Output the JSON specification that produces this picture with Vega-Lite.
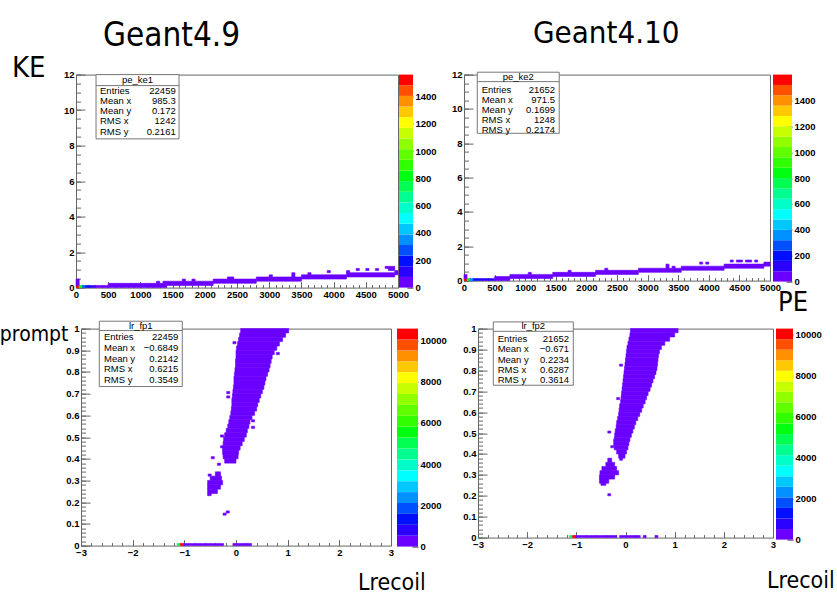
{
"$schema": "https://vega.github.io/schema/vega-lite/v6.json",
"padding": {"left": -14, "top": 17.6, "right": 0, "bottom": 0},
"background": "white",
"spacing": 3,
"resolve": {"scale": {"color": "independent", "stroke": "independent"}, "legend": {"color": "independent", "stroke": "independent"}},
"config": {
  "view": {"stroke": null},
  "axis": {"labelFont": "Liberation Sans", "labelFontWeight": "bold", "labelFontSize": 9.5, "labelColor": "#000", "tickColor": "#666", "tickWidth": 1, "domain": false, "grid": false, "labelFlush": false, "labelOverlap": false, "labelBound": false},
  "title": {"font": "DejaVu Sans Condensed, Liberation Sans", "fontWeight": "normal", "color": "#000", "anchor": "start", "frame": "group", "baseline": "alphabetic", "fontSize": 29},
  "text": {"font": "Liberation Sans", "fontSize": 9.5, "color": "#000"}
},
"datasets": {
  "tl_heat": [
    {"x":0,"x2":50,"y":0,"y2":0.12,"n":1550},
    {"x":50,"x2":100,"y":0,"y2":0.12,"n":800},
    {"x":100,"x2":150,"y":0,"y2":0.12,"n":300},
    {"x":150,"x2":200,"y":0,"y2":0.12,"n":180},
    {"x":200,"x2":300,"y":0,"y2":0.12,"n":100},
    {"x":0,"x2":50,"y":0.12,"y2":0.48,"n":20},
    {"x":300,"x2":500,"y":0,"y2":0.12,"n":60},
    {"x":500,"x2":1400,"y":0,"y2":0.24,"n":40},
    {"x":1250,"x2":1300,"y":0.24,"y2":0.36,"n":3},
    {"x":1350,"x2":1400,"y":0.24,"y2":0.36,"n":3},
    {"x":1400,"x2":2130,"y":0.12,"y2":0.36,"n":30},
    {"x":1650,"x2":1700,"y":0.36,"y2":0.48,"n":2},
    {"x":1800,"x2":1850,"y":0.36,"y2":0.48,"n":2},
    {"x":2130,"x2":2800,"y":0.24,"y2":0.48,"n":25},
    {"x":2350,"x2":2450,"y":0.48,"y2":0.6,"n":2},
    {"x":2800,"x2":3500,"y":0.36,"y2":0.6,"n":20},
    {"x":3000,"x2":3050,"y":0.6,"y2":0.72,"n":2},
    {"x":3350,"x2":3400,"y":0.6,"y2":0.84,"n":2},
    {"x":3500,"x2":4200,"y":0.48,"y2":0.72,"n":15},
    {"x":3600,"x2":3650,"y":0.72,"y2":0.84,"n":2},
    {"x":3900,"x2":3950,"y":0.84,"y2":0.96,"n":1},
    {"x":4200,"x2":4950,"y":0.6,"y2":0.84,"n":12},
    {"x":4200,"x2":4250,"y":0.84,"y2":0.96,"n":2},
    {"x":4350,"x2":4400,"y":0.96,"y2":1.08,"n":1},
    {"x":4500,"x2":4550,"y":0.96,"y2":1.08,"n":1},
    {"x":4650,"x2":4700,"y":0.96,"y2":1.08,"n":1},
    {"x":4950,"x2":5000,"y":0.72,"y2":0.96,"n":8},
    {"x":4800,"x2":4950,"y":1.08,"y2":1.2,"n":1},
    {"x":4850,"x2":4950,"y":0.96,"y2":1.08,"n":2}
  ],
  "tr_heat": [
    {"x":0,"x2":50,"y":0,"y2":0.12,"n":1590},
    {"x":50,"x2":100,"y":0,"y2":0.12,"n":820},
    {"x":100,"x2":150,"y":0,"y2":0.12,"n":330},
    {"x":150,"x2":250,"y":0,"y2":0.12,"n":180},
    {"x":0,"x2":50,"y":0.12,"y2":0.36,"n":20},
    {"x":250,"x2":500,"y":0,"y2":0.12,"n":90},
    {"x":500,"x2":750,"y":0,"y2":0.24,"n":50},
    {"x":750,"x2":1450,"y":0.12,"y2":0.36,"n":35},
    {"x":1050,"x2":1100,"y":0.36,"y2":0.48,"n":2},
    {"x":1450,"x2":2150,"y":0.24,"y2":0.48,"n":30},
    {"x":1700,"x2":1750,"y":0.48,"y2":0.6,"n":2},
    {"x":2150,"x2":2850,"y":0.36,"y2":0.6,"n":25},
    {"x":2300,"x2":2350,"y":0.6,"y2":0.72,"n":2},
    {"x":2850,"x2":3550,"y":0.48,"y2":0.72,"n":20},
    {"x":3300,"x2":3350,"y":0.72,"y2":0.96,"n":2},
    {"x":3400,"x2":3450,"y":0.72,"y2":0.84,"n":2},
    {"x":3550,"x2":4250,"y":0.6,"y2":0.84,"n":15},
    {"x":3850,"x2":3900,"y":0.96,"y2":1.08,"n":1},
    {"x":3950,"x2":4000,"y":0.96,"y2":1.08,"n":1},
    {"x":4250,"x2":4900,"y":0.72,"y2":0.96,"n":12},
    {"x":4350,"x2":4400,"y":1.08,"y2":1.2,"n":1},
    {"x":4450,"x2":4550,"y":1.08,"y2":1.2,"n":1},
    {"x":4600,"x2":4700,"y":1.08,"y2":1.2,"n":1},
    {"x":4750,"x2":4800,"y":1.08,"y2":1.2,"n":1},
    {"x":4900,"x2":5000,"y":0.84,"y2":1.08,"n":8}
  ],
  "bl_heat": [
    {"x":-1.14,"x2":-1.08,"y":0,"y2":0.01,"n":5000},
    {"x":-1.08,"x2":-1.02,"y":0,"y2":0.01,"n":10500},
    {"x":-1.02,"x2":-0.24,"y":0,"y2":0.01,"n":200},
    {"x":-0.06,"x2":0.3,"y":0,"y2":0.01,"n":100},
    {"x":-0.25,"x2":-0.19,"y":0.14,"y2":0.15,"n":2},
    {"x":-0.19,"x2":-0.13,"y":0.15,"y2":0.16,"n":2},
    {"x":0.09,"x2":1.02,"y":0.98,"y2":1.0,"n":50},
    {"x":0.07,"x2":0.96,"y":0.96,"y2":0.98,"n":50},
    {"x":0.05,"x2":0.9,"y":0.94,"y2":0.96,"n":50},
    {"x":0.03,"x2":0.84,"y":0.92,"y2":0.94,"n":50},
    {"x":0.01,"x2":0.79,"y":0.9,"y2":0.92,"n":50},
    {"x":0.0,"x2":0.74,"y":0.88,"y2":0.9,"n":50},
    {"x":0.0,"x2":0.7,"y":0.86,"y2":0.88,"n":50},
    {"x":-0.01,"x2":0.68,"y":0.84,"y2":0.86,"n":50},
    {"x":-0.01,"x2":0.66,"y":0.82,"y2":0.84,"n":50},
    {"x":-0.02,"x2":0.64,"y":0.8,"y2":0.82,"n":50},
    {"x":-0.03,"x2":0.61,"y":0.78,"y2":0.8,"n":50},
    {"x":-0.04,"x2":0.58,"y":0.76,"y2":0.78,"n":50},
    {"x":-0.04,"x2":0.56,"y":0.74,"y2":0.76,"n":50},
    {"x":-0.05,"x2":0.54,"y":0.72,"y2":0.74,"n":50},
    {"x":-0.06,"x2":0.51,"y":0.7,"y2":0.72,"n":50},
    {"x":-0.07,"x2":0.48,"y":0.68,"y2":0.7,"n":50},
    {"x":-0.08,"x2":0.45,"y":0.66,"y2":0.68,"n":50},
    {"x":-0.08,"x2":0.42,"y":0.64,"y2":0.66,"n":50},
    {"x":-0.09,"x2":0.4,"y":0.62,"y2":0.64,"n":50},
    {"x":-0.1,"x2":0.36,"y":0.6,"y2":0.62,"n":50},
    {"x":-0.12,"x2":0.31,"y":0.58,"y2":0.6,"n":50},
    {"x":-0.14,"x2":0.27,"y":0.56,"y2":0.58,"n":50},
    {"x":-0.16,"x2":0.25,"y":0.54,"y2":0.56,"n":50},
    {"x":-0.19,"x2":0.22,"y":0.52,"y2":0.54,"n":50},
    {"x":-0.22,"x2":0.2,"y":0.5,"y2":0.52,"n":50},
    {"x":-0.24,"x2":0.16,"y":0.48,"y2":0.5,"n":50},
    {"x":-0.25,"x2":0.12,"y":0.46,"y2":0.48,"n":50},
    {"x":-0.26,"x2":0.08,"y":0.44,"y2":0.46,"n":50},
    {"x":-0.26,"x2":0.05,"y":0.42,"y2":0.44,"n":50},
    {"x":-0.25,"x2":0.04,"y":0.4,"y2":0.42,"n":50},
    {"x":-0.22,"x2":0.0,"y":0.38,"y2":0.4,"n":50},
    {"x":-0.4,"x2":-0.3,"y":0.32,"y2":0.34,"n":50},
    {"x":-0.5,"x2":-0.28,"y":0.3,"y2":0.32,"n":50},
    {"x":-0.55,"x2":-0.26,"y":0.28,"y2":0.3,"n":50},
    {"x":-0.55,"x2":-0.3,"y":0.26,"y2":0.28,"n":50},
    {"x":-0.55,"x2":-0.36,"y":0.24,"y2":0.26,"n":50},
    {"x":-0.55,"x2":-0.48,"y":0.23,"y2":0.24,"n":50},
    {"x":-0.48,"x2":-0.42,"y":0.4,"y2":0.41,"n":2},
    {"x":-0.36,"x2":-0.3,"y":0.37,"y2":0.38,"n":2},
    {"x":-0.54,"x2":-0.48,"y":0.32,"y2":0.33,"n":2},
    {"x":-0.3,"x2":-0.24,"y":0.5,"y2":0.51,"n":2},
    {"x":-0.3,"x2":-0.24,"y":0.45,"y2":0.46,"n":2},
    {"x":-0.18,"x2":-0.12,"y":0.68,"y2":0.69,"n":2},
    {"x":-0.18,"x2":-0.12,"y":0.7,"y2":0.71,"n":2},
    {"x":-0.06,"x2":0.0,"y":0.93,"y2":0.94,"n":2},
    {"x":0.3,"x2":0.36,"y":0.57,"y2":0.58,"n":2},
    {"x":0.3,"x2":0.36,"y":0.54,"y2":0.55,"n":2},
    {"x":0.78,"x2":0.84,"y":0.88,"y2":0.89,"n":2}
  ],
  "br_heat": [
    {"x":-1.14,"x2":-1.08,"y":0,"y2":0.01,"n":5000},
    {"x":-1.08,"x2":-1.02,"y":0,"y2":0.01,"n":10200},
    {"x":-1.02,"x2":-0.18,"y":0,"y2":0.01,"n":200},
    {"x":-0.12,"x2":0.3,"y":0,"y2":0.01,"n":100},
    {"x":0.36,"x2":0.42,"y":0,"y2":0.01,"n":5},
    {"x":0.6,"x2":0.66,"y":0,"y2":0.01,"n":5},
    {"x":0.1,"x2":1.07,"y":0.98,"y2":1.0,"n":50},
    {"x":0.09,"x2":1.0,"y":0.96,"y2":0.98,"n":50},
    {"x":0.07,"x2":0.9,"y":0.94,"y2":0.96,"n":50},
    {"x":0.05,"x2":0.8,"y":0.92,"y2":0.94,"n":50},
    {"x":0.03,"x2":0.73,"y":0.9,"y2":0.92,"n":50},
    {"x":0.02,"x2":0.69,"y":0.88,"y2":0.9,"n":50},
    {"x":0.01,"x2":0.67,"y":0.86,"y2":0.88,"n":50},
    {"x":0.0,"x2":0.66,"y":0.84,"y2":0.86,"n":50},
    {"x":-0.01,"x2":0.65,"y":0.82,"y2":0.84,"n":50},
    {"x":-0.02,"x2":0.64,"y":0.8,"y2":0.82,"n":50},
    {"x":-0.03,"x2":0.62,"y":0.78,"y2":0.8,"n":50},
    {"x":-0.04,"x2":0.59,"y":0.76,"y2":0.78,"n":50},
    {"x":-0.05,"x2":0.56,"y":0.74,"y2":0.76,"n":50},
    {"x":-0.06,"x2":0.53,"y":0.72,"y2":0.74,"n":50},
    {"x":-0.07,"x2":0.5,"y":0.7,"y2":0.72,"n":50},
    {"x":-0.08,"x2":0.46,"y":0.68,"y2":0.7,"n":50},
    {"x":-0.09,"x2":0.43,"y":0.66,"y2":0.68,"n":50},
    {"x":-0.1,"x2":0.4,"y":0.64,"y2":0.66,"n":50},
    {"x":-0.12,"x2":0.36,"y":0.62,"y2":0.64,"n":50},
    {"x":-0.13,"x2":0.33,"y":0.6,"y2":0.62,"n":50},
    {"x":-0.14,"x2":0.29,"y":0.58,"y2":0.6,"n":50},
    {"x":-0.16,"x2":0.25,"y":0.56,"y2":0.58,"n":50},
    {"x":-0.18,"x2":0.21,"y":0.54,"y2":0.56,"n":50},
    {"x":-0.19,"x2":0.18,"y":0.52,"y2":0.54,"n":50},
    {"x":-0.21,"x2":0.15,"y":0.5,"y2":0.52,"n":50},
    {"x":-0.22,"x2":0.12,"y":0.48,"y2":0.5,"n":50},
    {"x":-0.23,"x2":0.09,"y":0.46,"y2":0.48,"n":50},
    {"x":-0.24,"x2":0.07,"y":0.44,"y2":0.46,"n":50},
    {"x":-0.23,"x2":0.05,"y":0.42,"y2":0.44,"n":50},
    {"x":-0.18,"x2":0.02,"y":0.4,"y2":0.42,"n":50},
    {"x":-0.14,"x2":-0.01,"y":0.38,"y2":0.4,"n":50},
    {"x":-0.36,"x2":-0.28,"y":0.36,"y2":0.38,"n":50},
    {"x":-0.4,"x2":-0.22,"y":0.34,"y2":0.36,"n":50},
    {"x":-0.48,"x2":-0.18,"y":0.32,"y2":0.34,"n":50},
    {"x":-0.52,"x2":-0.14,"y":0.3,"y2":0.32,"n":50},
    {"x":-0.53,"x2":-0.22,"y":0.28,"y2":0.3,"n":50},
    {"x":-0.53,"x2":-0.34,"y":0.26,"y2":0.28,"n":50},
    {"x":-0.5,"x2":-0.4,"y":0.25,"y2":0.26,"n":50},
    {"x":-0.36,"x2":-0.3,"y":0.2,"y2":0.21,"n":2},
    {"x":-0.36,"x2":-0.3,"y":0.5,"y2":0.51,"n":2},
    {"x":-0.3,"x2":-0.24,"y":0.43,"y2":0.44,"n":2},
    {"x":-0.24,"x2":-0.18,"y":0.46,"y2":0.47,"n":2},
    {"x":-0.12,"x2":-0.06,"y":0.37,"y2":0.38,"n":2},
    {"x":-0.18,"x2":-0.12,"y":0.66,"y2":0.67,"n":2},
    {"x":-0.12,"x2":-0.06,"y":0.82,"y2":0.83,"n":2},
    {"x":0.84,"x2":0.9,"y":0.97,"y2":0.98,"n":2}
  ],
  "tl_head": [{"name": "pe_ke1"}],
  "tr_head": [{"name": "pe_ke2"}],
  "bl_head": [{"name": "lr_fp1"}],
  "br_head": [{"name": "lr_fp2"}],
  "tl_stats": [{"stat":"Entries","value":"22459"},{"stat":"Mean x","value":"985.3"},{"stat":"Mean y","value":"0.172"},{"stat":"RMS x","value":"1242"},{"stat":"RMS y","value":"0.2161"}],
  "tr_stats": [{"stat":"Entries","value":"21652"},{"stat":"Mean x","value":"971.5"},{"stat":"Mean y","value":"0.1699"},{"stat":"RMS x","value":"1248"},{"stat":"RMS y","value":"0.2174"}],
  "bl_stats": [{"stat":"Entries","value":"22459"},{"stat":"Mean x","value":"−0.6849"},{"stat":"Mean y","value":"0.2142"},{"stat":"RMS x","value":"0.6215"},{"stat":"RMS y","value":"0.3549"}],
  "br_stats": [{"stat":"Entries","value":"21652"},{"stat":"Mean x","value":"−0.671"},{"stat":"Mean y","value":"0.2234"},{"stat":"RMS x","value":"0.6287"},{"stat":"RMS y","value":"0.3614"}],
  "tl_bands": [{"lo":0,"hi":78},{"lo":78,"hi":156},{"lo":156,"hi":234},{"lo":234,"hi":312},{"lo":312,"hi":390},{"lo":390,"hi":468},{"lo":468,"hi":546},{"lo":546,"hi":624},{"lo":624,"hi":702},{"lo":702,"hi":780},{"lo":780,"hi":858},{"lo":858,"hi":936},{"lo":936,"hi":1014},{"lo":1014,"hi":1092},{"lo":1092,"hi":1170},{"lo":1170,"hi":1248},{"lo":1248,"hi":1326},{"lo":1326,"hi":1404},{"lo":1404,"hi":1482},{"lo":1482,"hi":1560}],
  "tr_bands": [{"lo":0,"hi":80},{"lo":80,"hi":160},{"lo":160,"hi":240},{"lo":240,"hi":320},{"lo":320,"hi":400},{"lo":400,"hi":480},{"lo":480,"hi":560},{"lo":560,"hi":640},{"lo":640,"hi":720},{"lo":720,"hi":800},{"lo":800,"hi":880},{"lo":880,"hi":960},{"lo":960,"hi":1040},{"lo":1040,"hi":1120},{"lo":1120,"hi":1200},{"lo":1200,"hi":1280},{"lo":1280,"hi":1360},{"lo":1360,"hi":1440},{"lo":1440,"hi":1520},{"lo":1520,"hi":1600}],
  "bl_bands": [{"lo":0,"hi":529},{"lo":529,"hi":1058},{"lo":1058,"hi":1587},{"lo":1587,"hi":2116},{"lo":2116,"hi":2645},{"lo":2645,"hi":3174},{"lo":3174,"hi":3703},{"lo":3703,"hi":4232},{"lo":4232,"hi":4761},{"lo":4761,"hi":5290},{"lo":5290,"hi":5819},{"lo":5819,"hi":6348},{"lo":6348,"hi":6877},{"lo":6877,"hi":7406},{"lo":7406,"hi":7935},{"lo":7935,"hi":8464},{"lo":8464,"hi":8993},{"lo":8993,"hi":9522},{"lo":9522,"hi":10051},{"lo":10051,"hi":10580}],
  "br_bands": [{"lo":0,"hi":514},{"lo":514,"hi":1028},{"lo":1028,"hi":1542},{"lo":1542,"hi":2056},{"lo":2056,"hi":2570},{"lo":2570,"hi":3084},{"lo":3084,"hi":3598},{"lo":3598,"hi":4112},{"lo":4112,"hi":4626},{"lo":4626,"hi":5140},{"lo":5140,"hi":5654},{"lo":5654,"hi":6168},{"lo":6168,"hi":6682},{"lo":6682,"hi":7196},{"lo":7196,"hi":7710},{"lo":7710,"hi":8224},{"lo":8224,"hi":8738},{"lo":8738,"hi":9252},{"lo":9252,"hi":9766},{"lo":9766,"hi":10280}]
},
"vconcat": [
 {
  "hconcat": [
  {"width": 90, "height": 213, "title": {"text": "KE", "fontSize": 29, "dx": 26, "offset": -31, "baseline": "alphabetic"}, "data": {"values": [{}]}, "mark": {"type": "text", "text": ""}},
  {
    "width": 322, "height": 213,
    "view": {"stroke": "#666"},
    "title": {"text": "Geant4.9", "fontSize": 33, "dx": 27, "offset": -9.75, "baseline": "alphabetic"},
    "resolve": {"scale": {"y": "independent"}, "axis": {"x": "independent", "y": "independent"}},
    "layer": [
      {"data": {"name": "tl_heat"}, "mark": {"type": "rect", "strokeWidth": 0.6},
       "encoding": {
        "x": {"field": "x", "type": "quantitative", "scale": {"domain": [0,5000], "nice": false, "zero": false}, "axis": {"orient": "bottom", "values": [0,500,1000,1500,2000,2500,3000,3500,4000,4500,5000], "format": "d", "tickSize": -6, "labelPadding": 8, "title": null}},
        "x2": {"field": "x2"},
        "y": {"field": "y", "type": "quantitative", "scale": {"domain": [0,12], "nice": false, "zero": false}, "axis": {"orient": "left", "values": [0,2,4,6,8,10,12], "format": "d", "tickSize": -9, "labelPadding": 11, "title": null}},
        "y2": {"field": "y2"},
        "color": {"field": "n", "type": "quantitative", "scale": {"type": "quantize", "domain": [0,1560], "range": ["#6a00ff","#2a00ff","#0010ff","#0050ff","#0090ff","#00c8ff","#00ffff","#00ffc8","#00ff90","#00ff50","#00ff10","#30ff00","#60ff00","#90ff00","#c8ff00","#ffff00","#ffc800","#ff9000","#ff5000","#ff0000"]}, "legend": null},
        "stroke": {"field": "n", "type": "quantitative", "scale": {"type": "quantize", "domain": [0,1560], "range": ["#6a00ff","#2a00ff","#0010ff","#0050ff","#0090ff","#00c8ff","#00ffff","#00ffc8","#00ff90","#00ff50","#00ff10","#30ff00","#60ff00","#90ff00","#c8ff00","#ffff00","#ffc800","#ff9000","#ff5000","#ff0000"]}, "legend": null}
       }},
      {"data": {"name": "tl_head"}, "mark": {"type": "rect", "fill": "white", "stroke": "#777", "strokeWidth": 1},
       "encoding": {
        "x": {"datum": 311, "type": "quantitative", "scale": {"domain": [0,5000], "nice": false, "zero": false}, "axis": {"orient": "bottom", "values": [0,100,200,300,400,500,600,700,800,900,1000,1100,1200,1300,1400,1500,1600,1700,1800,1900,2000,2100,2200,2300,2400,2500,2600,2700,2800,2900,3000,3100,3200,3300,3400,3500,3600,3700,3800,3900,4000,4100,4200,4300,4400,4500,4600,4700,4800,4900,5000], "labels": false, "tickSize": -3, "title": null}},
        "x2": {"datum": 1600},
        "y": {"datum": 12, "type": "quantitative", "scale": {"domain": [0,12], "nice": false, "zero": false}, "axis": {"orient": "left", "values": [0,0.5,1,1.5,2,2.5,3,3.5,4,4.5,5,5.5,6,6.5,7,7.5,8,8.5,9,9.5,10,10.5,11,11.5,12], "labels": false, "tickSize": -4.5, "title": null}},
        "y2": {"datum": 8.38}
       }},
      {"data": {"name": "tl_head"}, "mark": {"type": "rule", "stroke": "#777"},
       "encoding": {"x": {"datum": 311, "type": "quantitative", "scale": {"domain": [0,5000], "nice": false, "zero": false}, "axis": null}, "x2": {"datum": 1600}, "y": {"datum": 11.38, "type": "quantitative", "scale": {"domain": [0,12], "nice": false, "zero": false}, "axis": null}}},
      {"data": {"name": "tl_head"}, "mark": {"type": "text", "align": "center", "baseline": "middle"},
       "encoding": {"x": {"datum": 955, "type": "quantitative", "scale": {"domain": [0,5000], "nice": false, "zero": false}, "axis": null}, "y": {"datum": 11.72, "type": "quantitative", "scale": {"domain": [0,12], "nice": false, "zero": false}, "axis": null}, "text": {"field": "name"}}},
      {"data": {"name": "tl_stats"}, "mark": {"type": "text", "align": "left", "baseline": "middle"},
       "encoding": {"x": {"datum": 373, "type": "quantitative", "scale": {"domain": [0,5000], "nice": false, "zero": false}, "axis": null}, "y": {"field": "stat", "type": "nominal", "sort": null, "scale": {"type": "point", "range": [16,57], "padding": 0}, "axis": null}, "text": {"field": "stat"}}},
      {"data": {"name": "tl_stats"}, "mark": {"type": "text", "align": "right", "baseline": "middle"},
       "encoding": {"x": {"datum": 1548, "type": "quantitative", "scale": {"domain": [0,5000], "nice": false, "zero": false}, "axis": null}, "y": {"field": "stat", "type": "nominal", "sort": null, "scale": {"type": "point", "range": [16,57], "padding": 0}, "axis": null}, "text": {"field": "value"}}}
    ]
  },
  {"width": 1, "height": 213, "data": {"values": [{}]}, "mark": {"type": "text", "text": ""}},
  {"width": 14, "height": 213, "data": {"name": "tl_bands"}, "mark": "rect",
   "encoding": {
    "y": {"field": "lo", "type": "quantitative", "scale": {"domain": [0,1560], "nice": false, "zero": false}, "axis": {"orient": "right", "values": [0,200,400,600,800,1000,1200,1400], "format": "d", "tickSize": -6, "labelPadding": 8, "title": null, "tickColor": "#333"}},
    "y2": {"field": "hi"},
    "color": {"field": "lo", "type": "quantitative", "scale": {"type": "quantize", "domain": [0,1560], "range": ["#6a00ff","#2a00ff","#0010ff","#0050ff","#0090ff","#00c8ff","#00ffff","#00ffc8","#00ff90","#00ff50","#00ff10","#30ff00","#60ff00","#90ff00","#c8ff00","#ffff00","#ffc800","#ff9000","#ff5000","#ff0000"]}, "legend": null}
   }},
  {"width": 51, "height": 206, "data": {"values": [{}]}, "mark": {"type": "text", "text": ""}},
  {
    "width": 306, "height": 206,
    "view": {"stroke": "#666"},
    "title": {"text": "Geant4.10", "fontSize": 31, "dx": 69, "offset": -4.75, "baseline": "alphabetic"},
    "resolve": {"scale": {"y": "independent"}, "axis": {"x": "independent", "y": "independent"}},
    "layer": [
      {"data": {"name": "tr_heat"}, "mark": {"type": "rect", "strokeWidth": 0.6},
       "encoding": {
        "x": {"field": "x", "type": "quantitative", "scale": {"domain": [0,5000], "nice": false, "zero": false}, "axis": {"orient": "bottom", "values": [0,500,1000,1500,2000,2500,3000,3500,4000,4500,5000], "format": "d", "tickSize": -6, "labelPadding": 8, "title": null}},
        "x2": {"field": "x2"},
        "y": {"field": "y", "type": "quantitative", "scale": {"domain": [0,12], "nice": false, "zero": false}, "axis": {"orient": "left", "values": [0,2,4,6,8,10,12], "format": "d", "tickSize": -9, "labelPadding": 11, "title": null}},
        "y2": {"field": "y2"},
        "color": {"field": "n", "type": "quantitative", "scale": {"type": "quantize", "domain": [0,1600], "range": ["#6a00ff","#2a00ff","#0010ff","#0050ff","#0090ff","#00c8ff","#00ffff","#00ffc8","#00ff90","#00ff50","#00ff10","#30ff00","#60ff00","#90ff00","#c8ff00","#ffff00","#ffc800","#ff9000","#ff5000","#ff0000"]}, "legend": null},
        "stroke": {"field": "n", "type": "quantitative", "scale": {"type": "quantize", "domain": [0,1600], "range": ["#6a00ff","#2a00ff","#0010ff","#0050ff","#0090ff","#00c8ff","#00ffff","#00ffc8","#00ff90","#00ff50","#00ff10","#30ff00","#60ff00","#90ff00","#c8ff00","#ffff00","#ffc800","#ff9000","#ff5000","#ff0000"]}, "legend": null}
       }},
      {"data": {"name": "tr_head"}, "mark": {"type": "rect", "fill": "white", "stroke": "#777", "strokeWidth": 1},
       "encoding": {
        "x": {"datum": 217, "type": "quantitative", "scale": {"domain": [0,5000], "nice": false, "zero": false}, "axis": {"orient": "bottom", "values": [0,100,200,300,400,500,600,700,800,900,1000,1100,1200,1300,1400,1500,1600,1700,1800,1900,2000,2100,2200,2300,2400,2500,2600,2700,2800,2900,3000,3100,3200,3300,3400,3500,3600,3700,3800,3900,4000,4100,4200,4300,4400,4500,4600,4700,4800,4900,5000], "labels": false, "tickSize": -3, "title": null}},
        "x2": {"datum": 1556},
        "y": {"datum": 12.14, "type": "quantitative", "scale": {"domain": [0,12], "nice": false, "zero": false}, "axis": {"orient": "left", "values": [0,0.5,1,1.5,2,2.5,3,3.5,4,4.5,5,5.5,6,6.5,7,7.5,8,8.5,9,9.5,10,10.5,11,11.5,12], "labels": false, "tickSize": -4.5, "title": null}},
        "y2": {"datum": 8.58}
       }},
      {"data": {"name": "tr_head"}, "mark": {"type": "rule", "stroke": "#777"},
       "encoding": {"x": {"datum": 217, "type": "quantitative", "scale": {"domain": [0,5000], "nice": false, "zero": false}, "axis": null}, "x2": {"datum": 1556}, "y": {"datum": 11.59, "type": "quantitative", "scale": {"domain": [0,12], "nice": false, "zero": false}, "axis": null}}},
      {"data": {"name": "tr_head"}, "mark": {"type": "text", "align": "center", "baseline": "middle"},
       "encoding": {"x": {"datum": 886, "type": "quantitative", "scale": {"domain": [0,5000], "nice": false, "zero": false}, "axis": null}, "y": {"datum": 11.88, "type": "quantitative", "scale": {"domain": [0,12], "nice": false, "zero": false}, "axis": null}, "text": {"field": "name"}}},
      {"data": {"name": "tr_stats"}, "mark": {"type": "text", "align": "left", "baseline": "middle"},
       "encoding": {"x": {"datum": 289, "type": "quantitative", "scale": {"domain": [0,5000], "nice": false, "zero": false}, "axis": null}, "y": {"field": "stat", "type": "nominal", "sort": null, "scale": {"type": "point", "range": [15,55.3], "padding": 0}, "axis": null}, "text": {"field": "stat"}}},
      {"data": {"name": "tr_stats"}, "mark": {"type": "text", "align": "right", "baseline": "middle"},
       "encoding": {"x": {"datum": 1487, "type": "quantitative", "scale": {"domain": [0,5000], "nice": false, "zero": false}, "axis": null}, "y": {"field": "stat", "type": "nominal", "sort": null, "scale": {"type": "point", "range": [15,55.3], "padding": 0}, "axis": null}, "text": {"field": "value"}}}
    ]
  },
  {"width": 3, "height": 206, "data": {"values": [{}]}, "mark": {"type": "text", "text": ""}},
  {"width": 19, "height": 207, "data": {"name": "tr_bands"}, "mark": "rect",
   "title": {"text": "PE", "orient": "bottom", "fontSize": 27, "dx": 5, "offset": 25, "baseline": "alphabetic"},
   "encoding": {
    "y": {"field": "lo", "type": "quantitative", "scale": {"domain": [0,1600], "nice": false, "zero": false}, "axis": {"orient": "right", "values": [0,200,400,600,800,1000,1200,1400], "format": "d", "tickSize": -6, "labelPadding": 8, "title": null, "tickColor": "#333"}},
    "y2": {"field": "hi"},
    "color": {"field": "lo", "type": "quantitative", "scale": {"type": "quantize", "domain": [0,1600], "range": ["#6a00ff","#2a00ff","#0010ff","#0050ff","#0090ff","#00c8ff","#00ffff","#00ffc8","#00ff90","#00ff50","#00ff10","#30ff00","#60ff00","#90ff00","#c8ff00","#ffff00","#ffc800","#ff9000","#ff5000","#ff0000"]}, "legend": null}
   }}
  ],
  "bounds": "flush",
  "spacing": 0,
  "resolve": {"scale": {"color": "independent", "stroke": "independent"}, "legend": {"color": "independent", "stroke": "independent"}}
 },
 {
  "hconcat": [
  {"width": 95, "height": 217, "title": {"text": "Fprompt", "fontSize": 21, "dx": 3, "offset": -33, "baseline": "alphabetic"}, "data": {"values": [{}]}, "mark": {"type": "text", "text": ""}},
  {
    "width": 310, "height": 217,
    "view": {"stroke": "#666"},
    "title": {"text": "Lrecoil", "orient": "bottom", "fontSize": 23, "dx": 277, "offset": 32.5, "baseline": "alphabetic"},
    "resolve": {"scale": {"y": "independent"}, "axis": {"x": "independent", "y": "independent"}},
    "layer": [
      {"data": {"name": "bl_heat"}, "mark": {"type": "rect", "strokeWidth": 0.6},
       "encoding": {
        "x": {"field": "x", "type": "quantitative", "scale": {"domain": [-3,3], "nice": false, "zero": false}, "axis": {"orient": "bottom", "values": [-3,-2,-1,0,1,2,3], "format": "~g", "tickSize": -6, "labelPadding": 8, "title": null}},
        "x2": {"field": "x2"},
        "y": {"field": "y", "type": "quantitative", "scale": {"domain": [0,1], "nice": false, "zero": false}, "axis": {"orient": "left", "values": [0,0.1,0.2,0.3,0.4,0.5,0.6,0.7,0.8,0.9,1], "format": "~g", "tickSize": -9, "labelPadding": 11, "title": null}},
        "y2": {"field": "y2"},
        "color": {"field": "n", "type": "quantitative", "scale": {"type": "quantize", "domain": [0,10580], "range": ["#6a00ff","#2a00ff","#0010ff","#0050ff","#0090ff","#00c8ff","#00ffff","#00ffc8","#00ff90","#00ff50","#00ff10","#30ff00","#60ff00","#90ff00","#c8ff00","#ffff00","#ffc800","#ff9000","#ff5000","#ff0000"]}, "legend": null},
        "stroke": {"field": "n", "type": "quantitative", "scale": {"type": "quantize", "domain": [0,10580], "range": ["#6a00ff","#2a00ff","#0010ff","#0050ff","#0090ff","#00c8ff","#00ffff","#00ffc8","#00ff90","#00ff50","#00ff10","#30ff00","#60ff00","#90ff00","#c8ff00","#ffff00","#ffc800","#ff9000","#ff5000","#ff0000"]}, "legend": null}
       }},
      {"data": {"name": "bl_head"}, "mark": {"type": "rect", "fill": "white", "stroke": "#777", "strokeWidth": 1},
       "encoding": {
        "x": {"datum": -2.646, "type": "quantitative", "scale": {"domain": [-3,3], "nice": false, "zero": false}, "axis": {"orient": "bottom", "values": [-3,-2.8,-2.6,-2.4,-2.2,-2,-1.8,-1.6,-1.4,-1.2,-1,-0.8,-0.6,-0.4,-0.2,0,0.2,0.4,0.6,0.8,1,1.2,1.4,1.6,1.8,2,2.2,2.4,2.6,2.8,3], "labels": false, "tickSize": -3, "title": null}},
        "x2": {"datum": -1.04},
        "y": {"datum": 1.034, "type": "quantitative", "scale": {"domain": [0,1], "nice": false, "zero": false}, "axis": {"orient": "left", "values": [0,0.02,0.04,0.06,0.08,0.1,0.12,0.14,0.16,0.18,0.2,0.22,0.24,0.26,0.28,0.3,0.32,0.34,0.36,0.38,0.4,0.42,0.44,0.46,0.48,0.5,0.52,0.54,0.56,0.58,0.6,0.62,0.64,0.66,0.68,0.7,0.72,0.74,0.76,0.78,0.8,0.82,0.84,0.86,0.88,0.9,0.92,0.94,0.96,0.98,1], "labels": false, "tickSize": -4.5, "title": null}},
        "y2": {"datum": 0.733}
       }},
      {"data": {"name": "bl_head"}, "mark": {"type": "rule", "stroke": "#777"},
       "encoding": {"x": {"datum": -2.646, "type": "quantitative", "scale": {"domain": [-3,3], "nice": false, "zero": false}, "axis": null}, "x2": {"datum": -1.04}, "y": {"datum": 0.991, "type": "quantitative", "scale": {"domain": [0,1], "nice": false, "zero": false}, "axis": null}}},
      {"data": {"name": "bl_head"}, "mark": {"type": "text", "align": "center", "baseline": "middle"},
       "encoding": {"x": {"datum": -1.843, "type": "quantitative", "scale": {"domain": [-3,3], "nice": false, "zero": false}, "axis": null}, "y": {"datum": 1.014, "type": "quantitative", "scale": {"domain": [0,1], "nice": false, "zero": false}, "axis": null}, "text": {"field": "name"}}},
      {"data": {"name": "bl_stats"}, "mark": {"type": "text", "align": "left", "baseline": "middle"},
       "encoding": {"x": {"datum": -2.555, "type": "quantitative", "scale": {"domain": [-3,3], "nice": false, "zero": false}, "axis": null}, "y": {"field": "stat", "type": "nominal", "sort": null, "scale": {"type": "point", "range": [8.7,51.3], "padding": 0}, "axis": null}, "text": {"field": "stat"}}},
      {"data": {"name": "bl_stats"}, "mark": {"type": "text", "align": "right", "baseline": "middle"},
       "encoding": {"x": {"datum": -1.117, "type": "quantitative", "scale": {"domain": [-3,3], "nice": false, "zero": false}, "axis": null}, "y": {"field": "stat", "type": "nominal", "sort": null, "scale": {"type": "point", "range": [8.7,51.3], "padding": 0}, "axis": null}, "text": {"field": "value"}}}
    ]
  },
  {"width": 6, "height": 217, "data": {"values": [{}]}, "mark": {"type": "text", "text": ""}},
  {"width": 21, "height": 218, "data": {"name": "bl_bands"}, "mark": "rect",
   "encoding": {
    "y": {"field": "lo", "type": "quantitative", "scale": {"domain": [0,10580], "nice": false, "zero": false}, "axis": {"orient": "right", "values": [0,2000,4000,6000,8000,10000], "format": "d", "tickSize": -6, "labelPadding": 8, "title": null, "tickColor": "#333"}},
    "y2": {"field": "hi"},
    "color": {"field": "lo", "type": "quantitative", "scale": {"type": "quantize", "domain": [0,10580], "range": ["#6a00ff","#2a00ff","#0010ff","#0050ff","#0090ff","#00c8ff","#00ffff","#00ffc8","#00ff90","#00ff50","#00ff10","#30ff00","#60ff00","#90ff00","#c8ff00","#ffff00","#ffc800","#ff9000","#ff5000","#ff0000"]}, "legend": null}
   }},
  {"width": 60, "height": 209, "data": {"values": [{}]}, "mark": {"type": "text", "text": ""}},
  {
    "width": 295, "height": 209,
    "view": {"stroke": "#666"},
    "title": {"text": "Lrecoil", "orient": "bottom", "fontSize": 23, "dx": 289, "offset": 38.5, "baseline": "alphabetic"},
    "resolve": {"scale": {"y": "independent"}, "axis": {"x": "independent", "y": "independent"}},
    "layer": [
      {"data": {"name": "br_heat"}, "mark": {"type": "rect", "strokeWidth": 0.6},
       "encoding": {
        "x": {"field": "x", "type": "quantitative", "scale": {"domain": [-3,3], "nice": false, "zero": false}, "axis": {"orient": "bottom", "values": [-3,-2,-1,0,1,2,3], "format": "~g", "tickSize": -6, "labelPadding": 8, "title": null}},
        "x2": {"field": "x2"},
        "y": {"field": "y", "type": "quantitative", "scale": {"domain": [0,1], "nice": false, "zero": false}, "axis": {"orient": "left", "values": [0,0.1,0.2,0.3,0.4,0.5,0.6,0.7,0.8,0.9,1], "format": "~g", "tickSize": -9, "labelPadding": 11, "title": null}},
        "y2": {"field": "y2"},
        "color": {"field": "n", "type": "quantitative", "scale": {"type": "quantize", "domain": [0,10280], "range": ["#6a00ff","#2a00ff","#0010ff","#0050ff","#0090ff","#00c8ff","#00ffff","#00ffc8","#00ff90","#00ff50","#00ff10","#30ff00","#60ff00","#90ff00","#c8ff00","#ffff00","#ffc800","#ff9000","#ff5000","#ff0000"]}, "legend": null},
        "stroke": {"field": "n", "type": "quantitative", "scale": {"type": "quantize", "domain": [0,10280], "range": ["#6a00ff","#2a00ff","#0010ff","#0050ff","#0090ff","#00c8ff","#00ffff","#00ffc8","#00ff90","#00ff50","#00ff10","#30ff00","#60ff00","#90ff00","#c8ff00","#ffff00","#ffc800","#ff9000","#ff5000","#ff0000"]}, "legend": null}
       }},
      {"data": {"name": "br_head"}, "mark": {"type": "rect", "fill": "white", "stroke": "#777", "strokeWidth": 1},
       "encoding": {
        "x": {"datum": -2.689, "type": "quantitative", "scale": {"domain": [-3,3], "nice": false, "zero": false}, "axis": {"orient": "bottom", "values": [-3,-2.8,-2.6,-2.4,-2.2,-2,-1.8,-1.6,-1.4,-1.2,-1,-0.8,-0.6,-0.4,-0.2,0,0.2,0.4,0.6,0.8,1,1.2,1.4,1.6,1.8,2,2.2,2.4,2.6,2.8,3], "labels": false, "tickSize": -3, "title": null}},
        "x2": {"datum": -1.062},
        "y": {"datum": 1.032, "type": "quantitative", "scale": {"domain": [0,1], "nice": false, "zero": false}, "axis": {"orient": "left", "values": [0,0.02,0.04,0.06,0.08,0.1,0.12,0.14,0.16,0.18,0.2,0.22,0.24,0.26,0.28,0.3,0.32,0.34,0.36,0.38,0.4,0.42,0.44,0.46,0.48,0.5,0.52,0.54,0.56,0.58,0.6,0.62,0.64,0.66,0.68,0.7,0.72,0.74,0.76,0.78,0.8,0.82,0.84,0.86,0.88,0.9,0.92,0.94,0.96,0.98,1], "labels": false, "tickSize": -4.5, "title": null}},
        "y2": {"datum": 0.729}
       }},
      {"data": {"name": "br_head"}, "mark": {"type": "rule", "stroke": "#777"},
       "encoding": {"x": {"datum": -2.689, "type": "quantitative", "scale": {"domain": [-3,3], "nice": false, "zero": false}, "axis": null}, "x2": {"datum": -1.062}, "y": {"datum": 0.987, "type": "quantitative", "scale": {"domain": [0,1], "nice": false, "zero": false}, "axis": null}}},
      {"data": {"name": "br_head"}, "mark": {"type": "text", "align": "center", "baseline": "middle"},
       "encoding": {"x": {"datum": -1.876, "type": "quantitative", "scale": {"domain": [-3,3], "nice": false, "zero": false}, "axis": null}, "y": {"datum": 1.011, "type": "quantitative", "scale": {"domain": [0,1], "nice": false, "zero": false}, "axis": null}, "text": {"field": "name"}}},
      {"data": {"name": "br_stats"}, "mark": {"type": "text", "align": "left", "baseline": "middle"},
       "encoding": {"x": {"datum": -2.6, "type": "quantitative", "scale": {"domain": [-3,3], "nice": false, "zero": false}, "axis": null}, "y": {"field": "stat", "type": "nominal", "sort": null, "scale": {"type": "point", "range": [10.3,51.7], "padding": 0}, "axis": null}, "text": {"field": "stat"}}},
      {"data": {"name": "br_stats"}, "mark": {"type": "text", "align": "right", "baseline": "middle"},
       "encoding": {"x": {"datum": -1.149, "type": "quantitative", "scale": {"domain": [-3,3], "nice": false, "zero": false}, "axis": null}, "y": {"field": "stat", "type": "nominal", "sort": null, "scale": {"type": "point", "range": [10.3,51.7], "padding": 0}, "axis": null}, "text": {"field": "value"}}}
    ]
  },
  {"width": 3, "height": 209, "data": {"values": [{}]}, "mark": {"type": "text", "text": ""}},
  {"width": 17, "height": 211, "data": {"name": "br_bands"}, "mark": "rect",
   "encoding": {
    "y": {"field": "lo", "type": "quantitative", "scale": {"domain": [0,10280], "nice": false, "zero": false}, "axis": {"orient": "right", "values": [0,2000,4000,6000,8000,10000], "format": "d", "tickSize": -6, "labelPadding": 8, "title": null, "tickColor": "#333"}},
    "y2": {"field": "hi"},
    "color": {"field": "lo", "type": "quantitative", "scale": {"type": "quantize", "domain": [0,10280], "range": ["#6a00ff","#2a00ff","#0010ff","#0050ff","#0090ff","#00c8ff","#00ffff","#00ffc8","#00ff90","#00ff50","#00ff10","#30ff00","#60ff00","#90ff00","#c8ff00","#ffff00","#ffc800","#ff9000","#ff5000","#ff0000"]}, "legend": null}
   }}
  ],
  "bounds": "flush",
  "spacing": 0,
  "resolve": {"scale": {"color": "independent", "stroke": "independent"}, "legend": {"color": "independent", "stroke": "independent"}}
 }
]
}
